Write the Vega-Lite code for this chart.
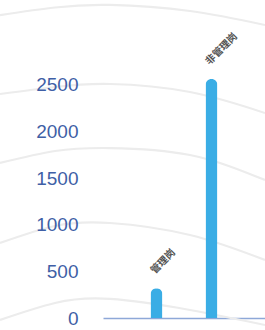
{
  "$schema": "https://vega.github.io/schema/vega-lite/v6.json",
  "width": 162,
  "height": 280,
  "autosize": {"type": "none"},
  "padding": {"left": 103, "top": 38, "right": 0, "bottom": 12},
  "config": {"view": {"stroke": null}, "font": "Liberation Sans"},
  "datasets": {
    "bars": [
      {"cat": "管理岗", "val": 320},
      {"cat": "非管理岗", "val": 2560}
    ],
    "arcs": [
      {"arc": "A", "u": 0, "v": 3246}, {"arc": "A", "u": 55, "v": 3327}, {"arc": "A", "u": 110, "v": 3354}, {"arc": "A", "u": 190, "v": 3289}, {"arc": "A", "u": 265, "v": 3139},
      {"arc": "B", "u": 0, "v": 2400}, {"arc": "B", "u": 55, "v": 2475}, {"arc": "B", "u": 110, "v": 2507}, {"arc": "B", "u": 190, "v": 2421}, {"arc": "B", "u": 265, "v": 2196},
      {"arc": "C", "u": 0, "v": 1661}, {"arc": "C", "u": 55, "v": 1789}, {"arc": "C", "u": 110, "v": 1821}, {"arc": "C", "u": 190, "v": 1746}, {"arc": "C", "u": 265, "v": 1478},
      {"arc": "D", "u": 0, "v": 804}, {"arc": "D", "u": 55, "v": 986}, {"arc": "D", "u": 110, "v": 1018}, {"arc": "D", "u": 190, "v": 889}, {"arc": "D", "u": 265, "v": 621},
      {"arc": "E", "u": 0, "v": -21}, {"arc": "E", "u": 55, "v": 161}, {"arc": "E", "u": 110, "v": 204}, {"arc": "E", "u": 190, "v": 86}, {"arc": "E", "u": 265, "v": -75}
    ]
  },
  "layer": [
    {
      "data": {"name": "arcs"},
      "mark": {"type": "line", "interpolate": "natural", "color": "#ececec", "strokeWidth": 2.2},
      "encoding": {
        "x": {"field": "u", "type": "quantitative", "scale": {"domain": [103, 265], "zero": false, "nice": false}, "axis": null},
        "y": {"field": "v", "type": "quantitative", "scale": {"domain": [0, 3000], "nice": false}, "axis": null},
        "detail": {"field": "arc"}
      }
    },
    {
      "data": {"name": "bars"},
      "encoding": {
        "x": {
          "field": "cat", "type": "nominal", "sort": null,
          "scale": {"paddingInner": 0.782, "paddingOuter": 0.864},
          "axis": {"labels": false, "ticks": false, "title": null, "domainColor": "#8ea8d8", "domainWidth": 1.5}
        },
        "y": {
          "field": "val", "type": "quantitative",
          "scale": {"domain": [0, 3000], "nice": false},
          "axis": {"values": [0, 500, 1000, 1500, 2000, 2500], "format": "d", "zindex": 1, "grid": false, "domain": false, "ticks": false, "labelPadding": 25, "labelFontSize": 19, "labelColor": "#3f5fa6", "title": null}
        }
      },
      "layer": [
        {"mark": {"type": "bar", "color": "#3aade5", "cornerRadiusTopLeft": 6, "cornerRadiusTopRight": 6}},
        {"mark": {"type": "text", "angle": -45, "align": "left", "baseline": "middle", "xOffset": -4, "yOffset": -16, "fontSize": 10, "fontWeight": "bold", "color": "#555555", "font": "Noto Sans CJK SC"},
         "encoding": {"text": {"field": "cat"}}}
      ]
    }
  ],
  "resolve": {"scale": {"x": "independent", "y": "independent"}}
}
